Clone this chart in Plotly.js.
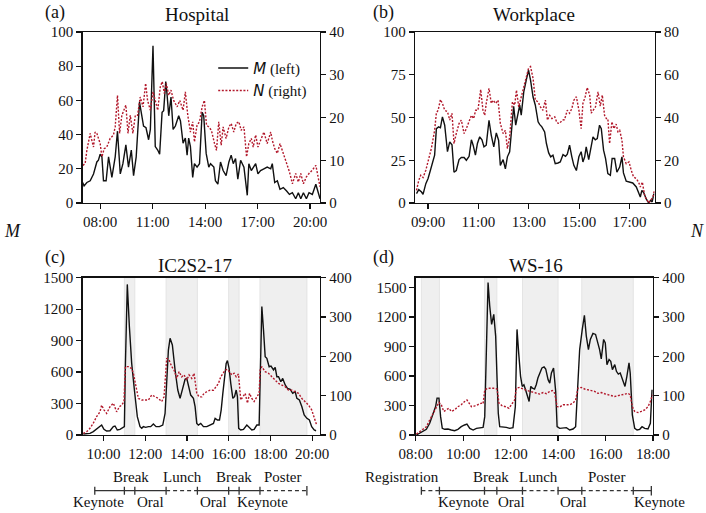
<!DOCTYPE html>
<html>
<head>
<meta charset="utf-8">
<script src="https://cdn.plot.ly/plotly-3.0.1.min.js"></script>
<style>
body { margin: 0; background: #fff; }
#chart { width: 706px; height: 513px; }
</style>
</head>
<body>
<div id="chart"></div>
<script>
// (a) Hospital
var hospitalTimeM = [7.0,7.08,7.24,7.43,7.62,7.81,7.90,8.0,8.10,8.19,
    8.34,8.48,8.67,8.86,8.99,9.15,9.30,9.47,9.62,9.78,
    9.91,10.06,10.25,10.39,10.48,10.62,10.77,10.87,11.02,11.15,
    11.29,11.40,11.54,11.63,11.75,11.82,11.92,12.05,12.17,12.30,
    12.49,12.59,12.74,12.87,12.97,13.06,13.16,13.29,13.39,13.54,
    13.68,13.83,13.92,14.06,14.21,14.31,14.50,14.59,14.73,14.88,
    15.03,15.20,15.36,15.49,15.61,15.74,15.87,16.03,16.22,16.41,
    16.50,16.64,16.75,16.89,17.02,17.17,17.36,17.55,17.75,17.84,
    17.98,18.13,18.28,18.47,18.66,18.82,18.99,19.18,19.33,19.47,
    19.62,19.79,19.94,20.13,20.33,20.46,20.57];
var hospitalM = [12,10,12,13,17,24,25,28.5,27,13,
    13,27,15,27,42,17,23,34,21,31,
    16,27,59,51,45,44,37,43,92,33,
    31,28.5,53,54,71,64,51,62,43,45,
    51,48,35,38,28,38,33,15,23,21,
    23,53,51,29,21,23,21,13,11,24,
    19,16,24,28,23,26,14,25,21,4.5,
    23,19,21,23,17,19,20,21,20,23,
    12,13,8,9,7,5,6,2.5,6,2.5,
    6,2.5,6,5,11,6,2.5];
var hospitalTimeN = [7.01,7.14,7.24,7.33,7.43,7.52,7.62,7.71,7.81,8.0,
    8.10,8.23,8.38,8.57,8.76,8.86,8.99,9.11,9.24,9.47,
    9.59,9.72,9.87,10.01,10.14,10.29,10.45,10.60,10.71,10.87,
    11.02,11.15,11.29,11.44,11.55,11.67,11.78,11.92,12.05,12.20,
    12.40,12.55,12.74,12.87,13.01,13.16,13.29,13.39,13.54,13.68,
    13.83,13.96,14.08,14.21,14.36,14.54,14.65,14.78,14.92,15.03,
    15.20,15.36,15.49,15.64,15.78,15.93,16.06,16.22,16.37,16.50,
    16.64,16.75,16.89,17.02,17.17,17.36,17.55,17.75,17.84,17.98,
    18.13,18.28,18.47,18.66,18.82,18.99,19.18,19.33,19.47,19.62,
    19.79,19.94,20.13,20.33,20.46,20.57];
var hospitalN = [8.8,9.2,12.3,13.9,16.3,14.7,13.1,16.6,16.3,13.9,
    10.8,12.7,13.1,15.1,15.9,17.8,25.2,16.3,20.5,22.9,
    16.3,20.5,16.3,20.5,20.5,24.8,22.5,28,24,21.7,
    26,24,21.7,27.2,28.4,25.6,28,25.2,26.4,24,
    22.5,24,21.7,26,20.5,16.6,19,14.3,18.2,19,
    22.5,24,18.2,17.8,17,13.9,12.3,19,13.5,17.8,
    15.1,17.8,18.6,16.6,18.6,19,17,17.8,10.8,13.9,
    15.1,13.1,15.9,13.1,14.7,16.6,13.9,16.6,14.7,12.7,
    11.6,13.9,11.6,9.2,7.3,4.5,6.9,4.9,6.9,4.5,
    6.1,6.9,7.7,8.8,6.1,3.8];

// (b) Workplace
var workTimeM = [8.54,8.63,8.74,8.80,8.91,9.00,9.09,9.20,9.26,9.33,
    9.42,9.49,9.57,9.66,9.77,9.86,9.95,10.03,10.12,10.23,
    10.32,10.43,10.52,10.63,10.72,10.79,10.88,10.96,11.05,11.14,
    11.22,11.31,11.42,11.51,11.61,11.71,11.80,11.87,11.98,12.07,
    12.15,12.24,12.35,12.40,12.48,12.57,12.64,12.70,12.80,12.90,
    12.99,13.07,13.17,13.26,13.37,13.43,13.52,13.63,13.70,13.79,
    13.87,13.96,14.05,14.16,14.25,14.36,14.46,14.53,14.62,14.71,
    14.79,14.89,14.99,15.08,15.15,15.22,15.28,15.38,15.46,15.55,
    15.64,15.72,15.81,15.88,15.97,16.05,16.14,16.24,16.31,16.41,
    16.50,16.61,16.70,16.76,16.87,17.00,17.13,17.27,17.36,17.43,
    17.49,17.57,17.66,17.76,17.84,17.90,17.97];
var workM = [5.5,7.8,6.4,5,11.3,14.3,19,25,28,43.5,
    44.5,44,50.4,45.5,30,35.7,34,18,19,25.4,
    26.6,26.6,25,27.3,37,33.8,28,34.8,38.7,37,
    32.8,33.8,48.4,39.6,32.8,41,36.7,22,25.4,20,
    27,30,49.4,56.6,45.5,53.3,57.2,51.4,65,71.9,
    77.7,71.9,62,57.2,47.5,46,44.5,41.6,34.8,29.3,
    27,28,23,23.4,24,28.3,27.3,28.5,33.8,27,
    22,19,27,30,24,27,32.8,25.4,30.9,38.7,
    37,37.7,45.5,43.5,30.9,26,17.2,16.2,26,26,
    18,21,27,17.6,12.7,12.3,11.7,9.4,6.4,3.5,
    7.4,5.9,2.5,0,1.6,0.6,5.5];
var workTimeN = [8.54,8.63,8.71,8.80,8.91,9.00,9.13,9.26,9.33,9.40,
    9.49,9.57,9.66,9.77,9.86,9.95,10.03,10.12,10.23,10.32,
    10.43,10.52,10.63,10.72,10.81,10.89,10.98,11.09,11.18,11.25,
    11.31,11.42,11.51,11.58,11.69,11.78,11.87,11.98,12.07,12.15,
    12.24,12.35,12.44,12.51,12.60,12.70,12.80,12.90,12.99,13.07,
    13.17,13.26,13.37,13.46,13.56,13.66,13.74,13.83,13.92,14.03,
    14.12,14.22,14.33,14.42,14.53,14.62,14.71,14.79,14.89,14.99,
    15.08,15.15,15.24,15.32,15.42,15.48,15.57,15.65,15.75,15.84,
    15.92,16.01,16.08,16.14,16.21,16.30,16.38,16.47,16.54,16.61,
    16.70,16.76,16.87,16.98,17.07,17.16,17.27,17.36,17.43,17.51,
    17.60,17.66,17.77,17.86,17.93,17.99];
var workN = [5.9,10.6,13,11.9,15.3,20,25.5,34,42.2,43.4,
    48.4,46.6,43.4,42.7,38.8,42,27.8,32.5,37.2,38.8,
    32.5,34.8,38,41,39.5,43.4,43.4,53.1,43.4,41,
    46.6,53.6,46.6,48.1,46.6,48.1,37.2,32.5,34,25.5,
    30.9,47.3,45.8,52.8,45,49.7,55.2,59.8,63,63.8,
    58.3,48.1,47.3,45,43.4,48.1,38.8,41,39.5,40.3,
    37.5,37.2,38.8,39,43.4,42,44.2,48.1,49.7,43.4,
    34.8,46.6,49.7,54,50.5,42,43.4,45,52,45.3,
    50.5,41,39.5,39.5,27.8,38,34.8,36.9,33.3,34,
    29.4,21.6,18.4,19.2,15.3,12.2,11.4,9.8,7.5,9.8,
    3.6,2,0,1.3,2.8,5.9];

// (c) IC2S2-17
var ic2s2TimeM = [9.03,9.19,9.35,9.51,9.67,9.83,9.91,10.02,10.15,10.31,
    10.47,10.55,10.66,10.79,10.92,11.00,11.05,11.14,11.24,11.35,
    11.48,11.62,11.75,11.83,11.91,12.02,12.15,12.26,12.39,12.52,
    12.68,12.84,12.95,13.03,13.11,13.19,13.30,13.43,13.56,13.67,
    13.80,13.91,13.99,14.07,14.18,14.31,14.39,14.47,14.55,14.66,
    14.79,14.95,15.11,15.27,15.35,15.46,15.56,15.64,15.72,15.78,
    15.88,15.94,16.02,16.10,16.20,16.28,16.36,16.42,16.48,16.58,
    16.71,16.87,17.00,17.11,17.22,17.35,17.46,17.51,17.59,17.67,
    17.75,17.83,17.94,18.03,18.15,18.23,18.31,18.39,18.50,18.59,
    18.71,18.82,18.95,19.07,19.19,19.27,19.39,19.51,19.62,19.75,
    19.87,19.98,20.10,20.19];
var ic2s2M = [10,10,16,32,54,80,95,54,38,41,
    80,86,48,54,73,80,683,1436,1033,683,
    429,175,80,64,80,73,80,80,105,80,
    80,95,207,588,810,922,858,620,429,350,
    445,531,540,461,381,350,270,111,95,111,
    80,80,95,111,159,143,143,238,397,493,
    683,709,636,493,350,366,429,366,64,48,
    54,95,64,48,54,95,95,620,1224,1001,
    747,731,651,658,620,645,556,556,508,540,
    477,445,435,397,413,350,334,270,191,159,
    143,80,48,41];
var ic2s2TimeN = [9.03,9.19,9.35,9.51,9.67,9.83,9.91,10.02,10.15,10.31,
    10.47,10.63,10.76,10.87,10.98,11.05,11.19,11.35,11.43,11.56,
    11.67,11.83,11.99,12.15,12.31,12.47,12.63,12.79,12.90,13.03,
    13.14,13.27,13.38,13.51,13.62,13.75,13.86,13.99,14.10,14.23,
    14.34,14.47,14.58,14.71,14.82,14.95,15.11,15.27,15.40,15.51,
    15.62,15.72,15.83,15.94,16.04,16.15,16.26,16.36,16.47,16.58,
    16.68,16.79,16.90,17.00,17.11,17.22,17.35,17.46,17.51,17.59,
    17.75,17.91,18.07,18.23,18.39,18.55,18.71,18.87,19.03,19.19,
    19.35,19.51,19.67,19.83,19.98,20.14,20.22];
var ic2s2N = [4,8.5,17,30,47,59,76,64,55,72,
    81,59,72,76,85,174,174,169,157,123,
    93,89,89,89,102,97,93,85,97,195,
    191,174,165,144,161,148,153,140,153,144,
    157,106,97,97,106,110,114,114,123,131,
    148,157,165,167,161,153,157,148,155,89,
    97,106,81,106,93,85,97,106,165,174,
    161,157,148,140,131,127,123,114,114,110,
    106,93,85,76,64,38,25];

// (d) WS-16
var wsTimeM = [8.03,8.17,8.31,8.45,8.59,8.73,8.84,8.90,8.98,9.05,
    9.12,9.22,9.36,9.50,9.64,9.78,9.92,10.06,10.16,10.28,
    10.42,10.56,10.70,10.84,10.91,10.98,11.05,11.12,11.20,11.29,
    11.37,11.43,11.48,11.54,11.68,11.82,11.96,12.10,12.20,12.27,
    12.34,12.42,12.49,12.56,12.63,12.70,12.78,12.85,12.92,13.01,
    13.08,13.15,13.22,13.32,13.41,13.48,13.58,13.65,13.72,13.81,
    13.90,13.96,14.07,14.21,14.35,14.49,14.63,14.74,14.83,14.91,
    15.02,15.11,15.19,15.28,15.36,15.47,15.58,15.68,15.75,15.82,
    15.92,15.99,16.06,16.15,16.22,16.29,16.39,16.46,16.54,16.62,
    16.71,16.82,16.90,16.99,17.04,17.13,17.23,17.33,17.44,17.54,
    17.65,17.79,17.89,17.96];
var wsM = [0,17,34,58,119,205,290,375,375,187,
    68,58,61,51,44,58,85,102,112,68,
    51,68,75,78,187,1040,1551,1312,1125,1227,
    1006,563,222,85,85,78,68,75,290,1074,
    835,597,494,511,460,392,341,494,477,467,
    511,580,631,682,692,672,563,528,631,682,
    443,85,68,68,75,51,61,85,563,869,
    1074,1217,1006,869,972,1033,1023,937,869,774,
    972,937,716,767,750,665,716,648,620,631,
    569,494,597,733,631,205,68,51,58,85,
    68,61,119,460];
var wsTimeN = [8.03,8.17,8.31,8.45,8.59,8.73,8.87,8.98,9.08,9.18,
    9.29,9.40,9.50,9.64,9.78,9.92,10.06,10.16,10.25,10.35,
    10.49,10.63,10.77,10.84,10.91,11.05,11.19,11.33,11.43,11.51,
    11.65,11.79,11.93,12.07,12.17,12.24,12.38,12.52,12.66,12.80,
    12.94,13.08,13.22,13.37,13.51,13.65,13.76,13.86,13.96,14.07,
    14.21,14.35,14.49,14.63,14.74,14.84,14.98,15.12,15.26,15.40,
    15.54,15.68,15.82,15.96,16.10,16.24,16.38,16.53,16.67,16.81,
    16.95,17.04,17.13,17.23,17.37,17.51,17.65,17.79,17.89,17.97];
var wsN = [2.6,8.5,14.5,21,38,55,72,83,77,60,
    64,68,60,64,72,77,85,89,81,72,
    74,77,81,79,115,119,119,119,117,81,
    74,72,68,81,89,119,121,117,113,111,
    109,106,104,108,105,111,113,106,72,71,
    77,77,77,81,89,119,121,117,115,113,
    111,106,108,105,102,100,98,100,102,105,
    106,102,72,60,57,60,64,72,85,102];

// conference programmes
var ic2s2Sessions = ['Keynote', 'Break', 'Oral', 'Lunch', 'Oral', 'Break', 'Keynote', 'Poster'];
var ic2s2Start = [9.58, 11.0, 11.5, 13.0, 14.5, 16.0, 16.5, 17.5];
var ic2s2End = [11.0, 11.5, 13.0, 14.5, 16.0, 16.5, 17.5, 19.75];
var ic2s2LabelAt = [9.76, 11.3, 12.23, 13.8, 15.25, 16.25, 17.6, 18.6];

var wsSessions = ['Registration', 'Keynote', 'Break', 'Oral', 'Lunch', 'Oral', 'Poster', 'Keynote'];
var wsStart = [8.24, 9.0, 10.9, 11.42, 12.5, 14.0, 15.0, 17.17];
var wsEnd = [9.0, 10.9, 11.42, 12.5, 14.0, 15.0, 17.17, 17.93];
var wsLabelAt = [9.05, 10.02, 11.19, 12.04, 13.18, 14.63, 16.06, 17.1];

// tick labels
var hospitalTicks = [8, 11, 14, 17, 20];
var hospitalTickText = ['08:00', '11:00', '14:00', '17:00', '20:00'];
var workTicks = [9, 11, 13, 15, 17];
var workTickText = ['09:00', '11:00', '13:00', '15:00', '17:00'];
var ic2s2Ticks = [10, 12, 14, 16, 18, 20];
var ic2s2TickText = ['10:00', '12:00', '14:00', '16:00', '18:00', '20:00'];
var wsTicks = [8, 10, 12, 14, 16, 18];
var wsTickText = ['08:00', '10:00', '12:00', '14:00', '16:00', '18:00'];

var serif = 'Liberation Serif';
var red = '#b2182b';

function lineTrace(x, y, xa, ya, isN, name, show) {
    return {
        x: x, y: y, xaxis: xa, yaxis: ya,
        type: 'scatter', mode: 'lines',
        name: name, showlegend: !!show,
        line: isN ? { color: red, width: 1.4, dash: '2px,1.6px' } : { color: '#111', width: 1.4 },
        hoverinfo: 'skip'
    };
}

function xAxis(domain, range, vals, text, anchor) {
    return {
        domain: domain, range: range, anchor: anchor,
        tickvals: vals, ticktext: text,
        showline: true, mirror: true, linecolor: '#111', linewidth: 1.3,
        ticks: 'outside', ticklen: 5, tickwidth: 1.2, tickcolor: '#111',
        showgrid: false, zeroline: false,
        tickfont: { family: serif, size: 15, color: '#111' }
    };
}

function yAxis(range, vals, anchor, overlay, domain) {
    var a = {
        range: range, tickvals: vals, anchor: anchor,
        showline: true, linecolor: '#111', linewidth: 1.3,
        ticks: 'outside', ticklen: 5, tickwidth: 1.2, tickcolor: '#111',
        showgrid: false, zeroline: false,
        tickfont: { family: serif, size: 15, color: '#111' }
    };
    if (overlay) { a.overlaying = overlay; a.side = 'right'; } else { a.domain = domain; }
    return a;
}

var topRow = [0.6043, 0.9376];
var botRow = [0.152, 0.4587];

var data = [
    lineTrace(hospitalTimeM, hospitalM, 'x', 'y', false, '<span style="font-family:DejaVu Sans"><i>M</i></span> (left)', true),
    lineTrace(hospitalTimeN, hospitalN, 'x', 'y2', true, '<span style="font-family:DejaVu Sans"><i>N</i></span> (right)', true),
    lineTrace(workTimeM, workM, 'x2', 'y3', false),
    lineTrace(workTimeN, workN, 'x2', 'y4', true),
    lineTrace(ic2s2TimeM, ic2s2M, 'x3', 'y5', false),
    lineTrace(ic2s2TimeN, ic2s2N, 'x3', 'y6', true),
    lineTrace(wsTimeM, wsM, 'x4', 'y7', false),
    lineTrace(wsTimeN, wsN, 'x4', 'y8', true)
];

var shapes = [];
var annotations = [];
var lineY = 0.0435, tickH = 0.0078;

function addProgramme(sessions, starts, ends, labelAt, xref, yref) {
    for (var i = 0; i < sessions.length; i++) {
        var s = sessions[i];
        var talk = (s === 'Keynote' || s === 'Oral');
        var dashed = (s === 'Lunch' || s === 'Poster' || s === 'Registration');
        if (!talk) {
            shapes.push({ type: 'rect', xref: xref, yref: yref + ' domain', x0: starts[i], x1: ends[i], y0: 0, y1: 1,
                fillcolor: '#efefef', line: { width: 1, color: '#e4e4e4' }, layer: 'below' });
        }
        shapes.push({ type: 'line', xref: xref, yref: 'paper', x0: starts[i], x1: ends[i], y0: lineY, y1: lineY,
            line: { color: '#333', width: 1.3, dash: dashed ? '4px,3px' : 'solid' } });
        shapes.push({ type: 'line', xref: xref, yref: 'paper', x0: starts[i], x1: starts[i], y0: lineY - tickH, y1: lineY + tickH,
            line: { color: '#333', width: 1.3 } });
        var anchor = 'center';
        if (i === 0 && s === 'Registration') anchor = 'right';
        if (i === sessions.length - 1 && xref === 'x4') anchor = 'left';
        annotations.push({ xref: xref, yref: 'paper', x: labelAt[i], y: talk ? 0.022 : 0.0702,
            xanchor: anchor, yanchor: 'middle', showarrow: false, text: s,
            font: { family: serif, size: 15, color: '#111' } });
    }
    var last = ends[ends.length - 1];
    shapes.push({ type: 'line', xref: xref, yref: 'paper', x0: last, x1: last, y0: lineY - tickH * 1.2, y1: lineY + tickH * 1.2,
        line: { color: '#333', width: 1.3 } });
}

addProgramme(ic2s2Sessions, ic2s2Start, ic2s2End, ic2s2LabelAt, 'x3', 'y5');
addProgramme(wsSessions, wsStart, wsEnd, wsLabelAt, 'x4', 'y7');

function addText(x, y, text, size, italic) {
    annotations.push({ xref: 'paper', yref: 'paper', x: x, y: y, text: italic ? '<i>' + text + '</i>' : text,
        showarrow: false, xanchor: 'center', yanchor: 'middle',
        font: { family: serif, size: size, color: '#111' } });
}

addText(0.078, 0.975, '(a)', 18);
addText(0.279, 0.972, 'Hospital', 19);
addText(0.5435, 0.975, '(b)', 18);
addText(0.757, 0.972, 'Workplace', 19);
addText(0.078, 0.499, '(c)', 18);
addText(0.276, 0.4834, 'IC2S2-17', 19);
addText(0.5435, 0.499, '(d)', 18);
addText(0.7597, 0.4834, 'WS-16', 19);
addText(0.018, 0.55, 'M', 18, true);
addText(0.987, 0.55, 'N', 18, true);

var layout = {
    width: 706, height: 513,
    margin: { l: 0, r: 0, t: 0, b: 0 },
    paper_bgcolor: '#fff', plot_bgcolor: 'rgba(0,0,0,0)',
    font: { family: serif, color: '#111' },
    showlegend: true,
    legend: { x: 0.302, y: 0.899, xanchor: 'left', yanchor: 'top', bgcolor: 'rgba(0,0,0,0)',
        font: { family: serif, size: 15, color: '#111' }, tracegroupgap: 0, itemwidth: 30 },
    xaxis: xAxis([0.1171, 0.4533], [7.0, 20.57], hospitalTicks, hospitalTickText, 'y'),
    yaxis: yAxis([0, 100], [0, 20, 40, 60, 80, 100], 'x', null, topRow),
    yaxis2: yAxis([0, 40], [0, 10, 20, 30, 40], 'x', 'y'),
    xaxis2: xAxis([0.5878, 0.9273], [8.48, 18.0], workTicks, workTickText, 'y3'),
    yaxis3: yAxis([0, 100], [0, 25, 50, 75, 100], 'x2', null, topRow),
    yaxis4: yAxis([0, 80], [0, 20, 40, 60, 80], 'x2', 'y3'),
    xaxis3: xAxis([0.1171, 0.4533], [9.0, 20.38], ic2s2Ticks, ic2s2TickText, 'y5'),
    yaxis5: yAxis([0, 1500], [0, 300, 600, 900, 1200, 1500], 'x3', null, botRow),
    yaxis6: yAxis([0, 400], [0, 100, 200, 300, 400], 'x3', 'y5'),
    xaxis4: xAxis([0.5888, 0.9249], [8.0, 18.0], wsTicks, wsTickText, 'y7'),
    yaxis7: yAxis([0, 1600], [0, 300, 600, 900, 1200, 1500], 'x4', null, botRow),
    yaxis8: yAxis([0, 400], [0, 100, 200, 300, 400], 'x4', 'y7'),
    shapes: shapes,
    annotations: annotations
};

Plotly.newPlot('chart', data, layout, { staticPlot: true, displayModeBar: false });
</script>
</body>
</html>
